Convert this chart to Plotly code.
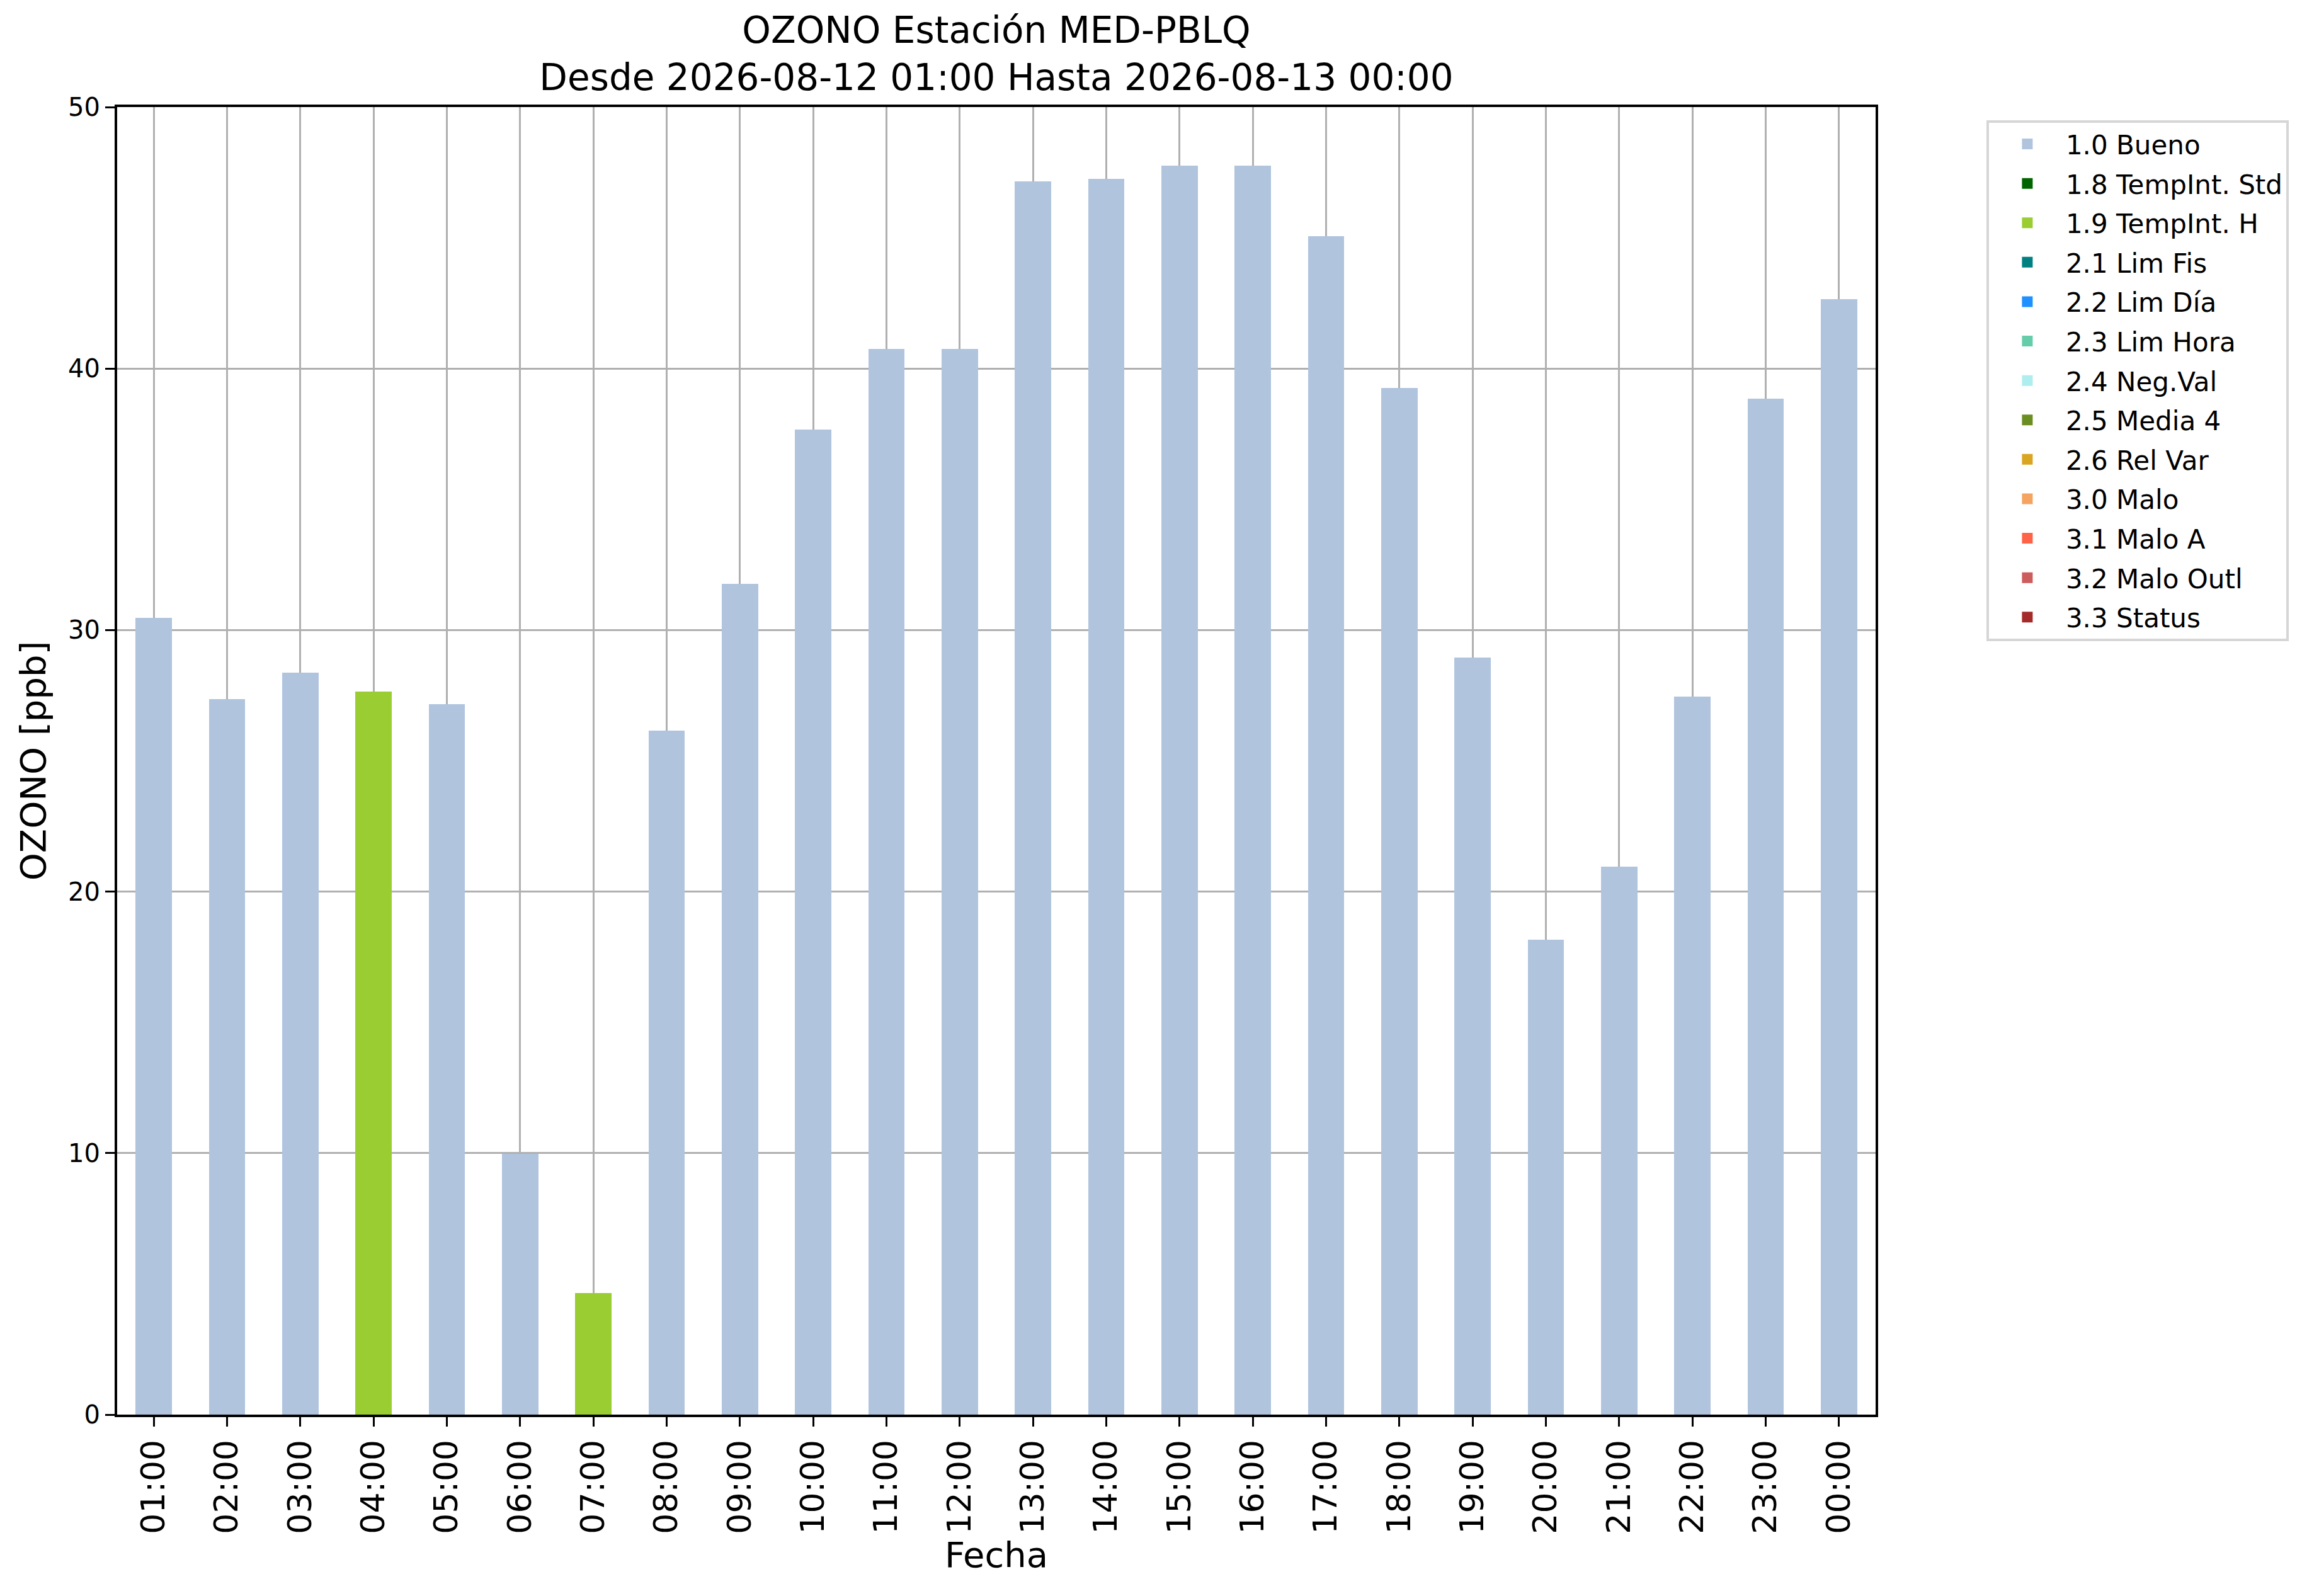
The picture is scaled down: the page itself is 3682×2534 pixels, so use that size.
import plotly.graph_objects as go

# Hourly ozone values and quality flags
horas = ["01:00", "02:00", "03:00", "04:00", "05:00", "06:00", "07:00", "08:00",
         "09:00", "10:00", "11:00", "12:00", "13:00", "14:00", "15:00", "16:00",
         "17:00", "18:00", "19:00", "20:00", "21:00", "22:00", "23:00", "00:00"]
ozono = [30.4, 27.3, 28.3, 27.6, 27.1, 9.9, 4.6, 26.1, 31.7, 37.6, 40.7, 40.7,
         47.1, 47.2, 47.7, 47.7, 45.0, 39.2, 28.9, 18.1, 20.9, 27.4, 38.8, 42.6]
banderas = ["1.0 Bueno"] * 24
banderas[3] = "1.9 TempInt. H"
banderas[6] = "1.9 TempInt. H"

categorias = ["1.0 Bueno", "1.8 TempInt. Std", "1.9 TempInt. H", "2.1 Lim Fis",
              "2.2 Lim Día", "2.3 Lim Hora", "2.4 Neg.Val", "2.5 Media 4",
              "2.6 Rel Var", "3.0 Malo", "3.1 Malo A", "3.2 Malo Outl", "3.3 Status"]
colores = ["#B0C4DE", "#006400", "#9ACD32", "#008080", "#1E90FF", "#66CDAA",
           "#AFEEEE", "#6B8E23", "#DAA520", "#F4A460", "#FF6347", "#CD5C5C", "#A52A2A"]

fig = go.Figure()
for cat, col in zip(categorias, colores):
    y = [v if b == cat else None for v, b in zip(ozono, banderas)]
    # same-colour outline makes the legend swatch a bit bigger
    fig.add_trace(go.Bar(x=horas, y=y, name=cat, legendgroup=cat, width=0.455,
                         marker=dict(color=col, line=dict(color=col, width=5))))

fig.update_layout(
    width=3682, height=2534,
    barmode="stack",
    plot_bgcolor="white", paper_bgcolor="white",
    font=dict(family="DejaVu Sans", color="black"),
    margin=dict(l=178, r=712, t=162, b=296),
    title=dict(text="OZONO Estación MED-PBLQ<br>Desde 2026-08-12 01:00 Hasta 2026-08-13 00:00",
               x=(178 + 2970) / 2 / 3682, xanchor="center",
               y=1 - 60 / 2534, yref="container", yanchor="middle",
               font=dict(size=58)),
    legend=dict(x=1.063, y=0.99, xanchor="left", yanchor="top",
                bordercolor="#d6d6d6", borderwidth=4, bgcolor="white",
                font=dict(size=42), tracegroupgap=5, itemwidth=112,
                traceorder="grouped"),
)
fig.update_xaxes(
    type="category", range=[-0.5, 23.5], tickangle=-90,
    tickfont=dict(size=52), ticks="outside", ticklen=15, tickwidth=3, tickcolor="black",
    showgrid=True, gridcolor="#b0b0b0", gridwidth=3,
    showline=True, linecolor="black", linewidth=4, mirror=True,
    layer="above traces",
    title=dict(text="Fecha", font=dict(size=56), standoff=2),
)
fig.update_yaxes(
    range=[0, 50], dtick=10, tickfont=dict(size=40),
    ticks="outside", ticklen=15, tickwidth=3, tickcolor="black",
    showgrid=True, gridcolor="#b0b0b0", gridwidth=3, zeroline=False,
    showline=True, linecolor="black", linewidth=4, mirror=True,
    layer="above traces",
    title=dict(text="OZONO [ppb]", font=dict(size=56), standoff=18),
)

fig.write_html("out.html")
